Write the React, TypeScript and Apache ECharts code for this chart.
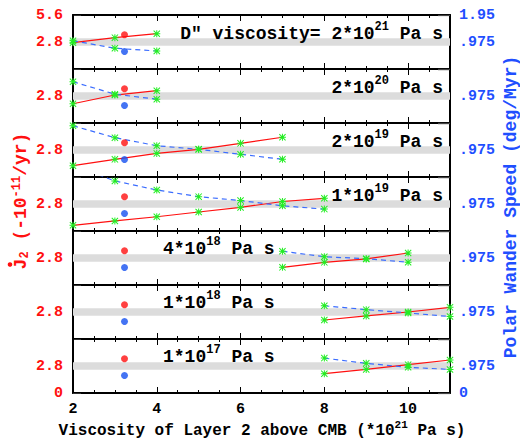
import React, { useEffect, useRef } from "react";
import * as echarts from "echarts";

// ---- data ----
const xTicks = [2, 4, 6, 8, 10];
const panelBase = ['D" viscosity= 2*10', "2*10", "2*10", "1*10", "4*10", "1*10", "1*10"];
const panelExp = ["21", "20", "19", "19", "18", "18", "17"];

const x1 = [2, 3, 4];
const j2P1 = [2.73, 3.25, 3.66];
const pwP1 = [1.02, 0.75, 0.65];

const x2 = [2, 3, 4];
const j2P2 = [2.0, 2.9, 3.35];
const pwP2 = [1.49, 1.04, 0.86];

const x3 = [2, 3, 4, 5, 6, 7];
const j2P3 = [1.17, 1.83, 2.45, 2.87, 3.49, 4.12];
const pwP3 = [1.85, 1.42, 1.13, 1.0, 0.82, 0.64];

const x4 = [2, 3, 4, 5, 6, 7, 8];
const j2P4 = [0.59, 1.04, 1.48, 1.97, 2.45, 3.06, 3.39];
const pwP4 = [2.35, 1.81, 1.48, 1.24, 1.1, 0.91, 0.79];

const x5 = [7, 8, 9, 10];
const j2P5 = [1.83, 2.35, 2.7, 3.32];
const pwP5 = [1.22, 1.02, 0.95, 0.82];

const x6 = [8, 9, 10, 11];
const j2P6 = [1.97, 2.39, 2.8, 3.28];
const pwP6 = [1.2, 1.06, 0.94, 0.81];

const x7 = [8, 9, 10, 11];
const j2P7 = [2.0, 2.45, 2.94, 3.42];
const pwP7 = [1.26, 1.07, 0.93, 0.85];

const obsX = 3.23;
const obsJ2 = 3.56;
const obsPW = 0.63;
const bandLow = 2.4;
const bandHigh = 3.2;

const panelX = [x1, x2, x3, x4, x5, x6, x7];
const panelJ2 = [j2P1, j2P2, j2P3, j2P4, j2P5, j2P6, j2P7];
const panelPW = [pwP1, pwP2, pwP3, pwP4, pwP5, pwP6, pwP7];

// ---- style ----
const FONT = "'Liberation Mono', 'Courier New', monospace";
const RED = "#ff1010";
const BLUE = "#1f4fff";
const LINE_BLUE = "#3a6cff";
const GREEN = "#22ee22";
const STAR =
  "path://M6,0h2v14h-2z M0,6h14v2h-14z M0,1.4L1.4,0L14,12.6L12.6,14z M12.6,0L14,1.4L1.4,14L0,12.6z";

const LEFT = 73;
const RIGHT = 70;
const TOP0 = 15;
const PH = 54;
const N = 7;

function near(a: number, b: number) {
  return Math.abs(a - b) < 1e-6;
}

export default function App() {
  const ref = useRef<HTMLDivElement>(null);

  useEffect(() => {
    if (!ref.current) return;
    const chart = echarts.init(ref.current, null, { renderer: "svg" });

    const grids: any[] = [];
    const xAxes: any[] = [];
    const yAxes: any[] = [];
    const series: any[] = [];
    const graphics: any[] = [];

    for (let i = 0; i < N; i++) {
      const top = TOP0 + PH * i;
      grids.push({ left: LEFT, right: RIGHT, top, height: PH, show: false });

      const base = {
        gridIndex: i,
        type: "value",
        min: 2,
        max: 11,
        splitLine: { show: false },
      };
      // bottom major
      xAxes.push({
        ...base,
        position: "bottom",
        interval: 2,
        axisLine: { show: true, onZero: false, lineStyle: { color: "#000", width: 2 } },
        axisTick: { show: true, inside: true, length: 6, lineStyle: { color: "#000", width: 1 } },
        axisLabel: {
          show: i === N - 1,
          margin: 9,
          color: "#000",
          fontFamily: FONT,
          fontWeight: "bold",
          fontSize: 15,
          formatter: (v: number) => (xTicks.some((t) => near(t, v)) ? String(v) : ""),
        },
      });
      // bottom minor
      xAxes.push({
        ...base,
        position: "bottom",
        interval: 0.5,
        axisLine: { show: false, onZero: false },
        axisTick: { show: true, inside: true, length: 3, lineStyle: { color: "#000", width: 1 } },
        axisLabel: { show: false },
      });
      // top major
      xAxes.push({
        ...base,
        position: "top",
        interval: 2,
        axisLine: { show: true, onZero: false, lineStyle: { color: "#000", width: 2 } },
        axisTick: { show: true, inside: true, length: 6, lineStyle: { color: "#000", width: 1 } },
        axisLabel: { show: false },
      });
      // top minor
      xAxes.push({
        ...base,
        position: "top",
        interval: 0.5,
        axisLine: { show: false, onZero: false },
        axisTick: { show: true, inside: true, length: 3, lineStyle: { color: "#000", width: 1 } },
        axisLabel: { show: false },
      });

      yAxes.push({
        gridIndex: i,
        type: "value",
        position: "left",
        min: 0,
        max: 5.6,
        interval: 2.8,
        splitLine: { show: false },
        axisLine: { show: true, onZero: false, lineStyle: { color: "#000", width: 2 } },
        axisTick: { show: true, inside: true, length: 8, lineStyle: { color: "#333", width: 1 } },
        axisLabel: {
          margin: 10,
          color: RED,
          fontFamily: FONT,
          fontWeight: "bold",
          fontSize: 15,
          formatter: (v: number) => {
            if (near(v, 2.8)) return "2.8";
            if (near(v, 5.6) && i === 0) return "5.6";
            if (near(v, 0) && i === N - 1) return "0";
            return "";
          },
        },
      });
      yAxes.push({
        gridIndex: i,
        type: "value",
        position: "right",
        min: 0,
        max: 1.95,
        interval: 0.975,
        splitLine: { show: false },
        axisLine: { show: true, onZero: false, lineStyle: { color: "#000", width: 2 } },
        axisTick: { show: true, inside: true, length: 12, lineStyle: { color: "#444", width: 1.2 } },
        axisLabel: {
          margin: 9,
          color: BLUE,
          fontFamily: FONT,
          fontWeight: "bold",
          fontSize: 15,
          formatter: (v: number) => {
            if (near(v, 0.975)) return ".975";
            if (near(v, 1.95) && i === 0) return "1.95";
            if (near(v, 0) && i === N - 1) return "0";
            return "";
          },
        },
      });

      const xs = panelX[i];
      series.push({
        type: "line",
        xAxisIndex: 4 * i,
        yAxisIndex: 2 * i,
        data: xs.map((x, k) => [x, panelJ2[i][k]]),
        lineStyle: { color: RED, width: 1.2 },
        symbol: STAR,
        symbolSize: 7,
        itemStyle: { color: GREEN },
        clip: true,
        z: 3,
        markArea: {
          silent: true,
          itemStyle: { color: "#dcdcdc", opacity: 1 },
          data: [[{ yAxis: bandLow }, { yAxis: bandHigh }]],
        },
      });
      series.push({
        type: "line",
        xAxisIndex: 4 * i,
        yAxisIndex: 2 * i + 1,
        data: xs.map((x, k) => [x, panelPW[i][k]]),
        lineStyle: { color: LINE_BLUE, width: 1.2, type: [5, 4] },
        symbol: STAR,
        symbolSize: 7,
        itemStyle: { color: GREEN },
        clip: true,
        z: 3,
      });
      series.push({
        type: "scatter",
        xAxisIndex: 4 * i,
        yAxisIndex: 2 * i,
        data: [[obsX, obsJ2]],
        symbol: "circle",
        symbolSize: 7,
        itemStyle: { color: RED },
        z: 4,
      });
      series.push({
        type: "scatter",
        xAxisIndex: 4 * i,
        yAxisIndex: 2 * i + 1,
        data: [[obsX, obsPW]],
        symbol: "circle",
        symbolSize: 7,
        itemStyle: { color: "#1550f0" },
        z: 4,
      });

      const rightAligned = i < 4;
      graphics.push({
        type: "text",
        x: rightAligned ? 443 : 163,
        y: top + (rightAligned ? 17 : 16),
        z: 10,
        style: {
          text: `{b|${panelBase[i]}}{s|${panelExp[i]}}{b| Pa s}`,
          align: rightAligned ? "right" : "left",
          verticalAlign: "middle",
          rich: {
            b: {
              fontFamily: FONT,
              fontWeight: "bold",
              fontSize: 18,
              lineHeight: 22,
              verticalAlign: "bottom",
              fill: "#000",
            },
            s: {
              fontFamily: FONT,
              fontWeight: "bold",
              fontSize: 12,
              lineHeight: 12,
              verticalAlign: "top",
              fill: "#000",
            },
          },
        },
      });
    }

    // axis titles
    graphics.push({
      type: "text",
      x: 262,
      y: 429,
      style: {
        text: "{n|Viscosity of Layer 2 above CMB (*10}{s|21}{n| Pa s)}",
        align: "center",
        verticalAlign: "middle",
        rich: {
          n: { fontFamily: FONT, fontWeight: "bold", fontSize: 16, lineHeight: 20, verticalAlign: "bottom", fill: "#000" },
          s: { fontFamily: FONT, fontWeight: "bold", fontSize: 11, lineHeight: 11, verticalAlign: "top", fill: "#000" },
        },
      },
    });
    graphics.push({
      type: "text",
      x: 21,
      y: 201,
      rotation: Math.PI / 2,
      style: {
        text: "{n|J}{d|2}{n| (-10}{u|-11}{n|/yr)}",
        align: "center",
        verticalAlign: "middle",
        rich: {
          n: { fontFamily: FONT, fontWeight: "bold", fontSize: 18, lineHeight: 20, verticalAlign: "middle", fill: RED },
          d: { fontFamily: FONT, fontWeight: "bold", fontSize: 12, lineHeight: 12, verticalAlign: "bottom", fill: RED },
          u: { fontFamily: FONT, fontWeight: "bold", fontSize: 12, lineHeight: 12, verticalAlign: "top", fill: RED },
        },
      },
    });
    graphics.push({
      type: "circle",
      shape: { cx: 10, cy: 264.5, r: 2.3 },
      style: { fill: RED },
    });
    graphics.push({
      type: "text",
      x: 511,
      y: 207,
      rotation: Math.PI / 2,
      style: {
        text: "Polar Wander Speed (deg/Myr)",
        align: "center",
        verticalAlign: "middle",
        fontFamily: FONT,
        fontWeight: "bold",
        fontSize: 18,
        fill: BLUE,
      },
    });

    chart.setOption({
      animation: false,
      backgroundColor: "#fff",
      grid: grids,
      xAxis: xAxes,
      yAxis: yAxes,
      series,
      graphic: graphics,
    });

    return () => chart.dispose();
  }, []);

  return (
    <div
      ref={ref}
      style={{ position: "fixed", left: 0, top: 0, width: 520, height: 441 }}
    />
  );
}
